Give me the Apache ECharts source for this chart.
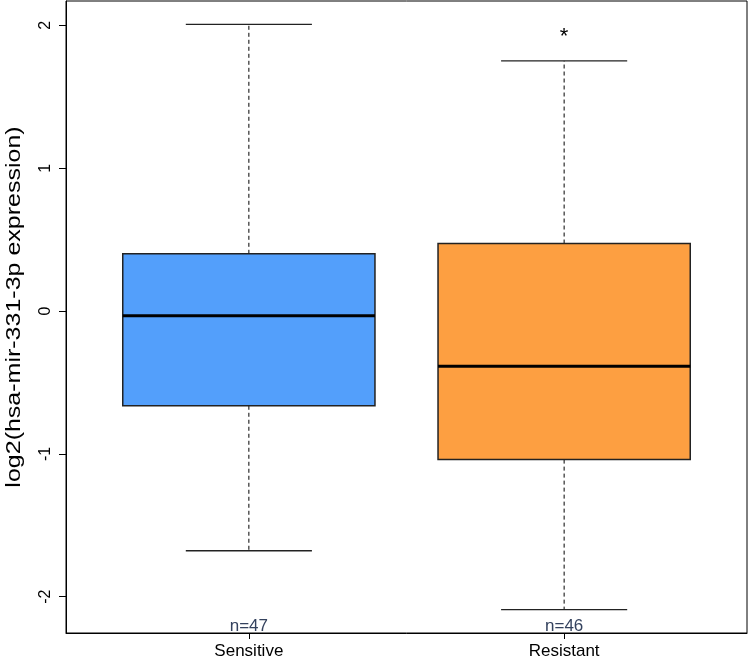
<!DOCTYPE html>
<html>
<head>
<meta charset="utf-8">
<script src="https://cdn.jsdelivr.net/npm/echarts@6/dist/echarts.min.js"></script>
<style>
  html, body { margin: 0; padding: 0; background: #fff; }
  #chart { width: 749px; height: 664px; }
</style>
</head>
<body>
<div id="chart"></div>
<script>
// box statistics
const categories = ["Sensitive", "Resistant"];
const counts = [47, 46];
const lowerWhisker = [-1.678, -2.09];
const q1 = [-0.663, -1.04];
const median = [-0.032, -0.386];
const q3 = [0.401, 0.473];
const upperWhisker = [2.007, 1.752];
const outliers = [[2, 1.948]];
const yTicks = [-2, -1, 0, 1, 2];
const boxColors = ["#539ffb", "#fd9f41"];

const font = "'Liberation Sans', Arial, Helvetica, sans-serif";
const yMin = -2.254;
const yMax = 2.171;

const chart = echarts.init(document.getElementById("chart"));

function renderBox(params, api) {
  const x = api.value(0);
  const lo = api.coord([x, api.value(1)]);
  const b1 = api.coord([x, api.value(2)]);
  const md = api.coord([x, api.value(3)]);
  const b3 = api.coord([x, api.value(4)]);
  const hi = api.coord([x, api.value(5)]);
  const half = api.size([0.8, 0])[0] / 2;
  const capHalf = half / 2;
  const cx = md[0];
  const dash = { stroke: "#000", lineWidth: 1, lineDash: [4, 3] };
  const solid = { stroke: "#222", lineWidth: 1.3 };
  return {
    type: "group",
    children: [
      { type: "line", shape: { x1: cx, y1: b3[1], x2: cx, y2: hi[1] }, style: dash },
      { type: "line", shape: { x1: cx, y1: b1[1], x2: cx, y2: lo[1] }, style: dash },
      { type: "line", shape: { x1: cx - capHalf, y1: hi[1], x2: cx + capHalf, y2: hi[1] }, style: solid },
      { type: "line", shape: { x1: cx - capHalf, y1: lo[1], x2: cx + capHalf, y2: lo[1] }, style: solid },
      {
        type: "rect",
        shape: { x: cx - half, y: b3[1], width: half * 2, height: b1[1] - b3[1] },
        style: { fill: boxColors[params.dataIndex], stroke: "#222", lineWidth: 1.5 }
      },
      { type: "line", shape: { x1: cx - half, y1: md[1], x2: cx + half, y2: md[1] }, style: { stroke: "#000", lineWidth: 3 } }
    ]
  };
}

function renderCount(params, api) {
  const p = api.coord([api.value(0), yMin]);
  return {
    type: "text",
    x: p[0],
    y: p[1] + 2,
    style: {
      text: "n=" + api.value(1),
      textAlign: "center",
      textVerticalAlign: "bottom",
      fontFamily: font,
      fontSize: 17,
      fill: "#34425e"
    }
  };
}

function renderOutlier(params, api) {
  const p = api.coord([api.value(0), api.value(1)]);
  return {
    type: "text",
    x: p[0],
    y: p[1] + 4, // the glyph sits high in its box
    style: {
      text: "*",
      textAlign: "center",
      textVerticalAlign: "middle",
      fontFamily: font,
      fontSize: 22,
      fill: "#000"
    }
  };
}

chart.setOption({
  animation: false,
  backgroundColor: "#fff",
  grid: {
    left: 66, right: 2, top: 1, bottom: 31,
    outerBoundsMode: "none",
    containLabel: false,
    show: true, borderColor: "#000", borderWidth: 1
  },
  xAxis: {
    type: "value",
    min: 0.42,
    max: 2.58,
    splitLine: { show: false },
    axisLine: { show: true, onZero: false, lineStyle: { color: "#000", width: 1 } },
    axisTick: { show: true, customValues: [1, 2], length: 6, lineStyle: { color: "#000" } },
    axisLabel: {
      customValues: [1, 2],
      formatter: v => categories[Math.round(v) - 1],
      color: "#000",
      fontFamily: font,
      fontSize: 17,
      margin: 10
    }
  },
  yAxis: {
    type: "value",
    min: yMin,
    max: yMax,
    splitLine: { show: false },
    axisLine: { show: true, onZero: false, lineStyle: { color: "#000", width: 1 } },
    axisTick: { show: true, customValues: yTicks, length: 7, lineStyle: { color: "#000" } },
    axisLabel: {
      customValues: yTicks,
      rotate: 90,
      color: "#000",
      fontFamily: font,
      fontSize: 16,
      margin: 12
    }
  },
  graphic: [
    {
      // axis title, drawn a bit stretched along its length like the source
      type: "text",
      x: 14,
      y: 307,
      rotation: Math.PI / 2,
      scaleX: 1.25,
      style: {
        text: "log2(hsa-mir-331-3p expression)",
        textAlign: "center",
        textVerticalAlign: "middle",
        fontFamily: font,
        fontSize: 20,
        fill: "#000"
      }
    }
  ],
  series: [
    {
      type: "custom",
      renderItem: renderBox,
      encode: { x: 0, y: [1, 2, 3, 4, 5] },
      data: categories.map((c, i) => [i + 1, lowerWhisker[i], q1[i], median[i], q3[i], upperWhisker[i]]),
      clip: false
    },
    {
      type: "custom",
      renderItem: renderCount,
      encode: { x: 0 },
      data: counts.map((n, i) => [i + 1, n]),
      clip: false
    },
    {
      type: "custom",
      renderItem: renderOutlier,
      encode: { x: 0, y: 1 },
      data: outliers,
      clip: false
    }
  ]
});
</script>
</body>
</html>
